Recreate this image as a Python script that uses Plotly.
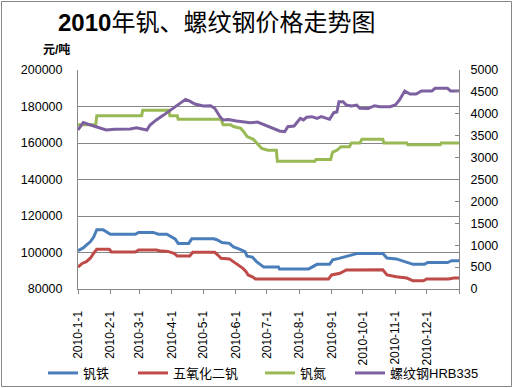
import pandas as pd
import plotly.graph_objects as go

# ---------------- data (day offsets from 2010-01-01) ----------------
start_date = "2010-01-01"

fe_days = [0, 5, 8, 12, 15, 18, 24, 27, 31, 55, 58, 72, 77, 85, 88, 93, 96, 106, 109, 130,
           133, 138, 145, 149, 154, 160, 162, 167, 171, 175, 178, 192, 193, 221, 224, 229, 241, 244, 250, 257,
           262, 268, 292, 296, 305, 313, 321, 332, 335, 354, 358, 365]
fe_vals = [101000, 102500, 104000, 106000, 108500, 112500, 112500, 111500, 110000, 110000,
           111000, 111000, 110000, 110000, 109000, 107500, 105000, 105000, 107500, 107500,
           107000, 105500, 105000, 103000, 102000, 100500, 98000, 97500, 95000, 93500,
           92000, 92000, 91000, 91000, 92000, 93500, 93500, 96000, 96800, 98000,
           98500, 99500, 99500, 97000, 96500, 95000, 93500, 93500, 94500, 94500, 95500, 95500]

v2o5_days = [0, 4, 8, 12, 15, 18, 30, 32, 55, 58, 75, 78, 86, 92, 95, 107, 110, 131, 134, 137,
             145, 149, 154, 158, 161, 163, 167, 170, 240, 243, 251, 257, 292, 296, 305, 315, 321, 331, 334, 355,
             360, 365]
v2o5_vals = [92000, 94000, 95000, 97000, 99600, 101800, 101800, 100300, 100300, 101400,
             101400, 101000, 100600, 99600, 98100, 98100, 100100, 100100, 98600, 96800,
             96500, 95000, 93200, 91300, 89500, 87700, 86700, 85500, 85500, 87700,
             88600, 90400, 90500, 87700, 86700, 86000, 84500, 84500, 85500, 85500, 86000, 86000]

vn_days = [0, 17, 18, 61, 62, 87, 88, 95, 96, 137, 139, 146, 149, 156, 159, 162, 168, 173, 176, 182,
           190, 191, 227, 228, 242, 244, 248, 252, 260, 262, 270, 272, 292, 293, 315, 316, 347, 348, 365]
vn_vals = [170000, 170000, 175000, 175000, 178000, 178000, 175000, 175000, 173000, 173000,
           170000, 170000, 169000, 168000, 166000, 163500, 162000, 159000, 157000, 156000,
           156000, 150000, 150000, 151000, 151000, 155000, 156000, 158000, 158000, 160000,
           160000, 162000, 162000, 160000, 160000, 159000, 159000, 160000, 160000]

rb_days = [0, 2, 5, 12, 17, 22, 27, 35, 50, 56, 61, 66, 69, 75, 82, 90, 95, 100, 103, 107,
           112, 120, 127, 131, 136, 139, 144, 152, 165, 172, 179, 185, 193, 198, 201, 207, 213, 216, 219, 224,
           229, 233, 241, 245, 248, 250, 254, 257, 262, 267, 270, 278, 284, 289, 299, 304, 308, 313, 318, 324,
           329, 339, 342, 354, 357, 365]
rb_vals = [3630, 3700, 3800, 3745, 3705, 3670, 3630, 3645, 3655, 3683,
           3650, 3630, 3745, 3860, 3970, 4110, 4185, 4276, 4330, 4290,
           4224, 4180, 4185, 4125, 3934, 3858, 3870, 3835, 3797, 3810,
           3744, 3683, 3607, 3591, 3705, 3720, 3897, 3860, 3920, 3934,
           3897, 3934, 3874, 4025, 4040, 4276, 4276, 4200, 4180, 4200,
           4125, 4120, 4185, 4160, 4160, 4200, 4315, 4520, 4452, 4452,
           4520, 4520, 4582, 4582, 4520, 4520]

series_names = ["钒铁", "五氧化二钒", "钒氮", "螺纹钢HRB335"]
tick_dates = ["2010-01-01", "2010-02-01", "2010-03-01", "2010-04-01", "2010-05-01", "2010-06-01",
              "2010-07-01", "2010-08-01", "2010-09-01", "2010-10-01", "2010-11-01", "2010-12-01", "2011-01-01"]
tick_labels = ["2010-1-1", "2010-2-1", "2010-3-1", "2010-4-1", "2010-5-1", "2010-6-1",
               "2010-7-1", "2010-8-1", "2010-9-1", "2010-10-1", "2010-11-1", "2010-12-1", ""]
title_text = "<b>2010</b>年钒、螺纹钢价格走势图"
unit_text = "<b>元/吨</b>"

# ---------------- figure ----------------
def to_dates(days):
    return pd.Timestamp(start_date) + pd.to_timedelta(days, unit="D")

FONT = "Liberation Sans, Arial, Noto Sans CJK SC, sans-serif"
colors = ["#4A7EBB", "#BE4B48", "#98B954", "#7D60A0"]

W, H = 514, 388
L, R, T, B = 78, 55, 70, 99
pw, ph = W - L - R, H - T - B

def px_x(p):
    return (p - L) / pw

def px_y(p):
    return (H - B - p) / ph

fig = go.Figure()
data = [(fe_days, fe_vals, "y", "legend"), (v2o5_days, v2o5_vals, "y", "legend2"),
        (vn_days, vn_vals, "y", "legend3"), (rb_days, rb_vals, "y2", "legend4")]
for i, (d, v, ax, lg) in enumerate(data):
    fig.add_trace(go.Scatter(x=to_dates(d), y=v, yaxis=ax, mode="lines", name=series_names[i],
                             line=dict(color=colors[i], width=3), legend=lg))

legend_px = [43, 133, 260, 350]
legend_common = dict(orientation="h", yanchor="middle", y=px_y(373), xanchor="left",
                     font=dict(family=FONT, size=13, color="#000000"), bgcolor="rgba(0,0,0,0)",
                     itemwidth=30, borderwidth=0)
gray = "#868686"
fig.update_layout(
    width=W, height=H, margin=dict(l=L, r=R, t=T, b=B, autoexpand=False),
    paper_bgcolor="white", plot_bgcolor="white",
    font=dict(family=FONT, size=12, color="#000000"),
    showlegend=True,
    legend=dict(x=px_x(legend_px[0]), **legend_common),
    legend2=dict(x=px_x(legend_px[1]), **legend_common),
    legend3=dict(x=px_x(legend_px[2]), **legend_common),
    legend4=dict(x=px_x(legend_px[3]), **legend_common),
    xaxis=dict(type="date", range=[tick_dates[0], tick_dates[-1]], tickmode="array",
               tickvals=tick_dates, ticktext=tick_labels, tickangle=-90,
               ticks="outside", ticklen=4, tickcolor=gray, showline=True, linecolor=gray,
               showgrid=False, zeroline=False, tickfont=dict(size=12), ticklabelstandoff=12,
               automargin=False),
    yaxis=dict(range=[80000, 200000], dtick=20000, showgrid=True, gridcolor=gray,
               showline=True, linecolor=gray, zeroline=False, tickformat="d",
               tickfont=dict(size=12.5), ticklabelstandoff=12, automargin=False),
    yaxis2=dict(range=[0, 5000], dtick=500, overlaying="y", side="right", showgrid=False,
                showline=True, linecolor=gray, zeroline=False, ticks="inside", ticklen=4,
                tickcolor=gray, tickformat="d", tickfont=dict(size=12.5), ticklabelstandoff=8,
                automargin=False),
    annotations=[
        dict(text=title_text, xref="paper", yref="paper", x=px_x(216), y=px_y(22),
             xanchor="center", yanchor="middle", showarrow=False,
             font=dict(family=FONT, size=24, color="#000000")),
        dict(text=unit_text, xref="paper", yref="paper", x=px_x(56), y=px_y(49),
             xanchor="center", yanchor="middle", showarrow=False,
             font=dict(family=FONT, size=12, color="#000000")),
    ],
    shapes=[dict(type="rect", xref="paper", yref="paper",
                 x0=px_x(1.5), x1=px_x(511.5), y0=px_y(386.5), y1=px_y(1.5),
                 line=dict(color=gray, width=1), fillcolor="rgba(0,0,0,0)", layer="below")],
)

# remove the default 8px page margin so the 514x388 figure fills the window exactly
fig.write_html("out.html", config={"displayModeBar": False},
               post_script="document.body.style.margin='0';document.body.style.overflow='hidden';")
